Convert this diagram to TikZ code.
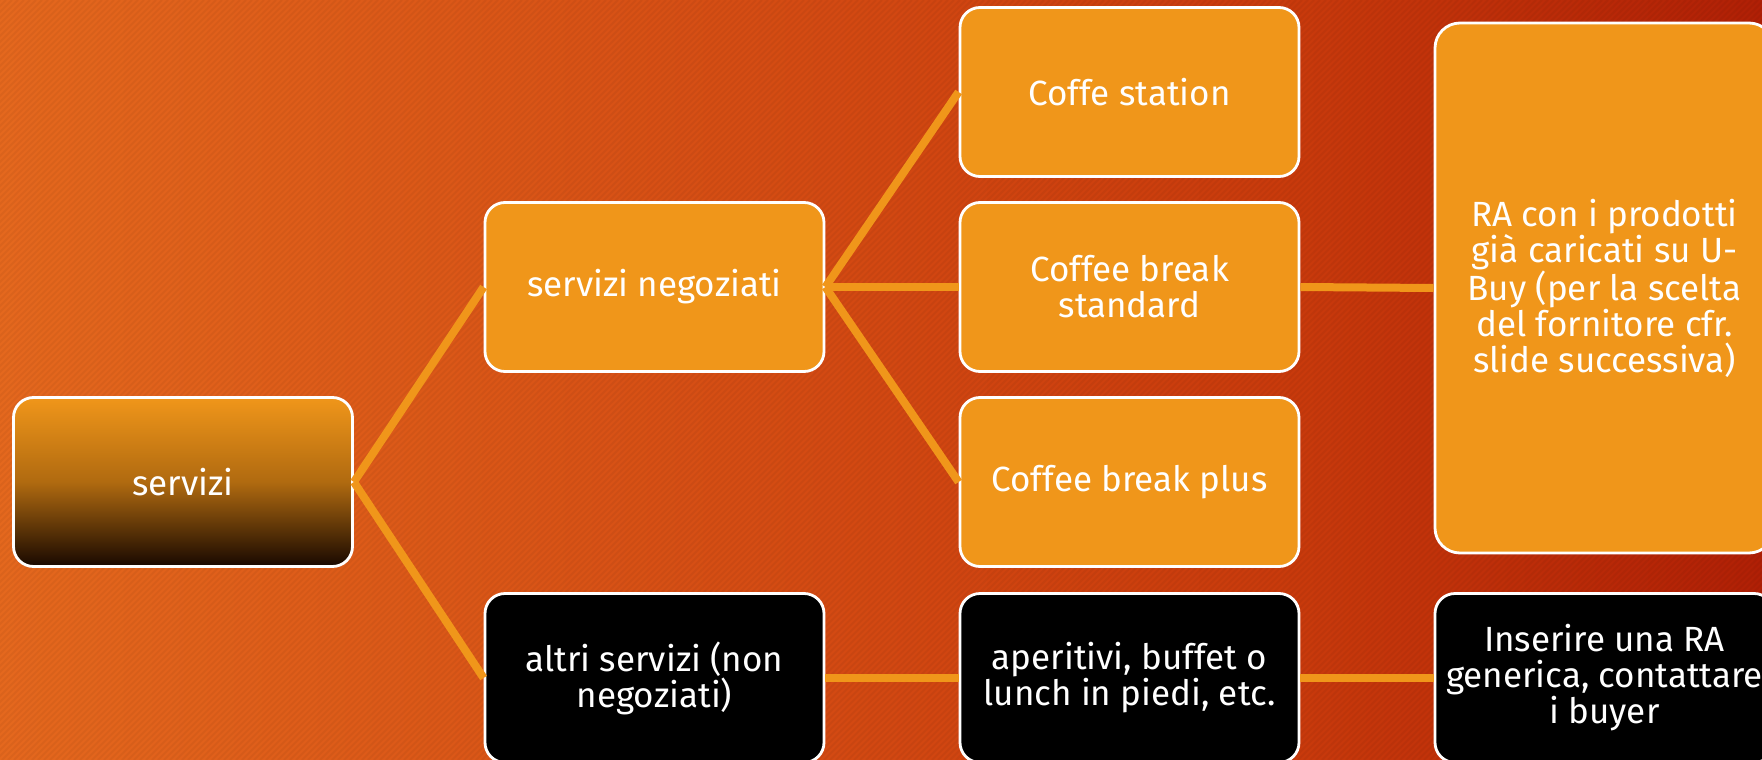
\documentclass[tikz,border=0pt]{standalone}
\usepackage{fontspec}
\setmainfont{Fira Sans}
\definecolor{bgL}{HTML}{E4681E}
\definecolor{bgM}{HTML}{D24812}
\definecolor{bgN}{HTML}{C83A0C}
\definecolor{bgR}{HTML}{B02006}
\definecolor{boxor}{HTML}{F0961A}
\definecolor{boxmid}{HTML}{B06A10}
\definecolor{boxdark}{HTML}{180800}
\pgfdeclarehorizontalshading{bgshade}{100bp}{color(0bp)=(bgL); color(25bp)=(bgL); color(50bp)=(bgM); color(62bp)=(bgN); color(75bp)=(bgR); color(100bp)=(bgR)}
\tikzset{
  box/.style={draw=white, line width=2.8pt, rounded corners=20pt, minimum width=339pt,
    minimum height=169pt, inner sep=0pt, align=center, text=white,
    font=\fontsize{35}{36}\selectfont},
  orbox/.style={box, fill=boxor},
  blkbox/.style={box, fill=black},
  conn/.style={draw=boxor, line width=8pt}
}
\begin{document}
\begin{tikzpicture}[x=1pt,y=-1pt]
\clip (0,0) rectangle (1762,760);
\shade[shading=bgshade] (0,0) rectangle (1762,760);
\foreach \i in {0,6,...,2530} {
  \draw[black, opacity=0.045, line width=2pt] (\i-760,760) -- (\i,0);
}
% nodes
\node[box, top color=boxor, bottom color=boxdark, middle color=boxmid] (srv) at (183,482) {servizi};
\node[orbox] (neg) at (654.5,287) {servizi negoziati};
\node[blkbox] (alt) at (654.5,678) {altri servizi (non\\negoziati)};
\node[orbox] (cst) at (1129.5,92) {Coffe station};
\node[orbox] (cbs) at (1129.5,287) {Coffee break\\standard};
\node[orbox] (cbp) at (1129.5,482) {Coffee break plus};
\node[blkbox] (ape) at (1129.5,678) {aperitivi, buffet o\\lunch in piedi, etc.};
\node[orbox, minimum height=530pt, rounded corners=25pt] (ra) at (1604.5,288) {RA con i prodotti\\già caricati su U-\\Buy (per la scelta\\del fornitore cfr.\\slide successiva)};
\node[blkbox] (ins) at (1604.5,678) {Inserire una RA\\generica, contattare\\i buyer};
% connectors
\draw[conn] (srv.east) -- (neg.west);
\draw[conn] (srv.east) -- (alt.west);
\draw[conn] (neg.east) -- (cst.west);
\draw[conn] (neg.east) -- (cbs.west);
\draw[conn] (neg.east) -- (cbp.west);
\draw[conn] (cbs.east) -- (ra.west);
\draw[conn] (alt.east) -- (ape.west);
\draw[conn] (ape.east) -- (ins.west);
\end{tikzpicture}
\end{document}
